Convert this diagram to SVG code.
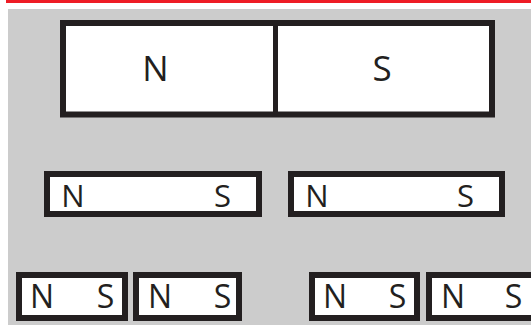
<svg xmlns="http://www.w3.org/2000/svg" width="531" height="325" viewBox="0 0 531 325">
<style>
.mag{fill:#fff;stroke:#231f20;stroke-width:6}
.t{font-family:"Open Sans","Liberation Sans",sans-serif;fill:#231f20;text-anchor:middle}
.big{font-size:35px}
.mid{font-size:31px}
.sm{font-size:32px}
</style>
<rect x="0" y="0" width="531" height="325" fill="#fff"/>
<rect x="6" y="0" width="525" height="3" fill="#ee1c25"/>
<rect x="8" y="9" width="523" height="316" fill="#cccccc"/>
<g id="big-magnet">
<rect class="mag" x="63" y="23" width="429" height="91.5"/>
<line x1="275.5" y1="23" x2="275.5" y2="114.5" stroke="#231f20" stroke-width="5"/>
<text class="t big" x="155.5" y="81">N</text>
<text class="t big" x="382" y="81">S</text>
</g>
<g id="mid-left">
<rect class="mag" x="47" y="174" width="212" height="40"/>
<text class="t mid" x="73" y="207">N</text>
<text class="t mid" x="222.5" y="207">S</text>
</g>
<g id="mid-right">
<rect class="mag" x="291" y="174" width="211" height="40"/>
<text class="t mid" x="317" y="207">N</text>
<text class="t mid" x="465.5" y="207">S</text>
</g>
<g id="small-1">
<rect class="mag" x="19" y="275" width="106" height="43"/>
<text class="t sm" x="42" y="308">N</text>
<text class="t sm" x="105.5" y="308">S</text>
</g>
<g id="small-2">
<rect class="mag" x="136" y="275" width="103" height="43"/>
<text class="t sm" x="160" y="308">N</text>
<text class="t sm" x="222.5" y="308">S</text>
</g>
<g id="small-3">
<rect class="mag" x="312" y="275" width="105" height="43"/>
<text class="t sm" x="335" y="308">N</text>
<text class="t sm" x="397.5" y="308">S</text>
</g>
<g id="small-4">
<rect class="mag" x="429" y="275" width="105" height="43"/>
<text class="t sm" x="453" y="308">N</text>
<text class="t sm" x="513.5" y="308">S</text>
</g>
<g id="connectors"/>
</svg>
